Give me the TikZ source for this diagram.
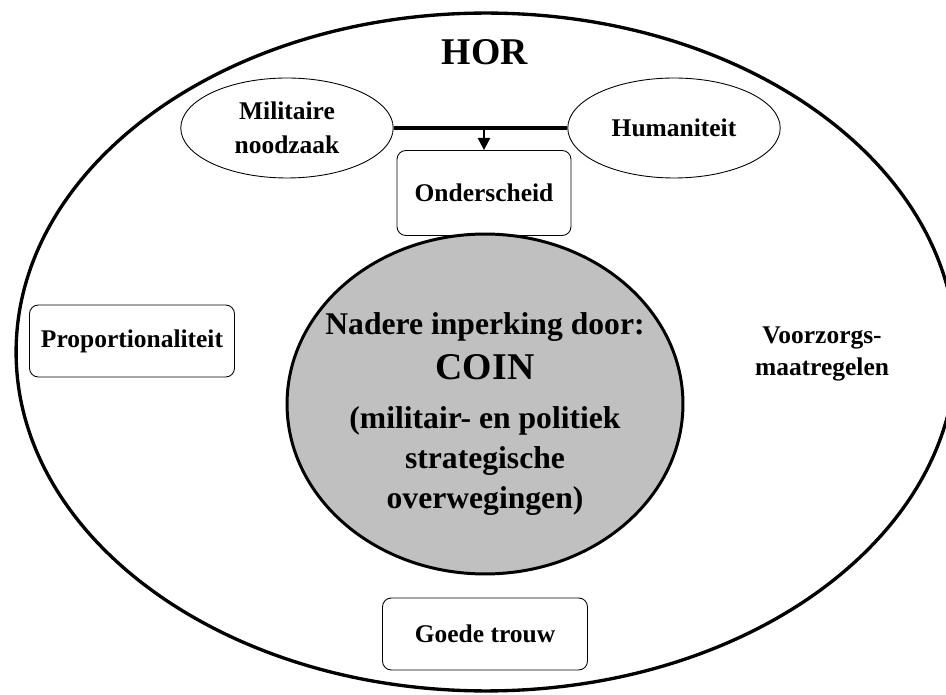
\documentclass[tikz,border=0pt]{standalone}
\usepackage{fontspec}
\setmainfont{Liberation Serif}
\usepackage{xcolor}
\usepackage{tikz}
\usetikzlibrary{shapes.geometric,arrows.meta,positioning}
\definecolor{coinG}{HTML}{C0C0C0}

\begin{document}
\begin{tikzpicture}[x=0.02cm, y=-0.02cm, font=\bfseries\fontsize{14.5}{19.5}\selectfont,
  rim/.style={ellipse, draw=black, line width=1.9pt, inner sep=0pt, minimum width=18.8cm, minimum height=13.56cm},
  oval/.style={ellipse, draw=black, line width=0.5pt, align=center, inner sep=0pt, minimum width=4.25cm, minimum height=2cm},
  rbox/.style={draw=black, line width=0.5pt, rounded corners=5pt, align=center, inner sep=0pt, minimum width=4.1cm, minimum height=1.44cm},
  core/.style={ellipse, draw=black, line width=1.7pt, fill=coinG, inner sep=0pt, minimum width=7.92cm, minimum height=6.8cm},
  coretext/.style={align=center, inner sep=0pt, font=\bfseries\fontsize{18}{22.7}\selectfont},
  big/.style={font=\bfseries\fontsize{21.5}{24}\selectfont},
  bar/.style={line width=2.2pt, draw=black},
  arr/.style={-{Triangle[length=7pt,width=7pt]}, line width=1.3pt, draw=black},
  ]
\useasboundingbox (0,0) rectangle (946,695);
% ---- the frame
\node[rim] (hor) at (486,352) {};
\node[big] (title) at (485,52) {HOR};
% ---- the principles
\node[oval] (mil) at (287,128) {Militaire\\noodzaak};
\node[oval] (hum) at (674,128) {Humaniteit};
\node[rbox, minimum width=3.48cm, minimum height=1.7cm] (ond) at (484,193) {Onderscheid};
\draw[bar] (mil.east) -- (hum.west);
\draw[arr] (ond.north |- mil.east) -- (ond.north);
\node[rbox] (prop) at (132,341) {Proportionaliteit};
\node[align=center, font=\bfseries\fontsize{14.5}{18}\selectfont] (voor) at (822,354) {Voorzorgs-\\maatregelen};
\node[rbox] (goed) at (485,634) {Goede trouw};
% ---- the core
\node[core] (coin) at (485,404) {};
\node[coretext] (cointxt) at (485,414) {Nadere inperking door:\\[3pt]
  {\fontsize{21.5}{24}\selectfont COIN}\\[5pt]
  (militair- en politiek\\ strategische\\ overwegingen)};
\end{tikzpicture}
\end{document}
